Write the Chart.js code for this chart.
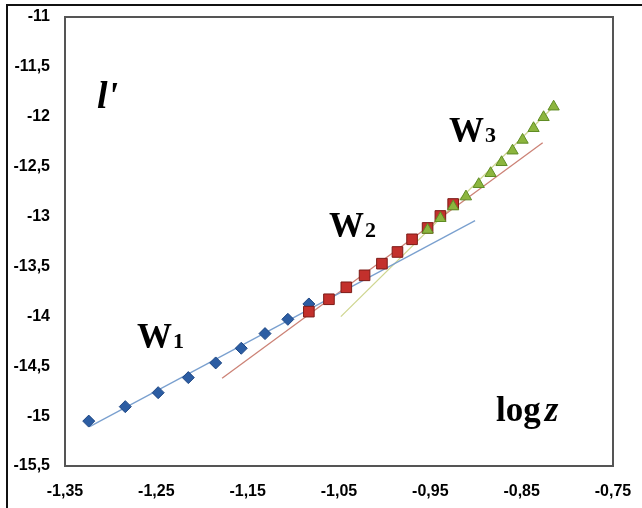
<!DOCTYPE html>
<html>
<head>
  <title>l' vs log z</title>
  <script src="https://cdn.jsdelivr.net/npm/chart.js@4/dist/chart.umd.min.js"></script>
  <style>
    body { margin: 0; background: #fff; }
    #wrap { width: 642px; height: 508px; }
  </style>
</head>
<body>
  <div id="wrap"><canvas id="chart" width="642" height="508"></canvas></div>
  <script>
    // W1 region (blue diamonds)
    const w1X = [-1.324, -1.284, -1.248, -1.215, -1.185, -1.157, -1.131, -1.106, -1.083];
    const w1Y = [-15.05, -14.905, -14.765, -14.614, -14.467, -14.32, -14.173, -14.03, -13.876];
    // W2 region (red squares)
    const w2X = [-1.083, -1.061, -1.042, -1.022, -1.003, -0.986, -0.970, -0.953, -0.939, -0.925];
    const w2Y = [-13.953, -13.829, -13.709, -13.589, -13.472, -13.355, -13.228, -13.114, -12.994, -12.874];
    // W3 region (green triangles)
    const w3X = [-0.953, -0.939, -0.925, -0.911, -0.897, -0.884, -0.872, -0.860, -0.849, -0.837, -0.826, -0.815];
    const w3Y = [-13.134, -13.017, -12.90, -12.80, -12.676, -12.566, -12.456, -12.34, -12.232, -12.115, -12.005, -11.899];
    // fitted straight lines
    const fit1X = [-1.323, -0.901];
    const fit1Y = [-15.105, -13.041];
    const fit2X = [-1.178, -0.827];
    const fit2Y = [-14.62, -12.26];
    const fit3X = [-1.048, -0.813];
    const fit3Y = [-14.003, -11.88];

    const toPts = (xs, ys) => xs.map((x, i) => ({ x: x, y: ys[i] }));

    // frame around the plot and the outer top/left lines
    const framePlugin = {
      id: 'frame',
      beforeDraw(chart) {
        const c = chart.ctx;
        c.save();
        c.strokeStyle = '#111';
        c.lineWidth = 2;
        c.beginPath();
        c.moveTo(7, 508);
        c.lineTo(7, 5);
        c.lineTo(642, 5);
        c.stroke();
        c.restore();
      },
      afterDatasetsDraw(chart) {
        const a = chart.chartArea;
        const c = chart.ctx;
        c.save();
        c.strokeStyle = '#555';
        c.lineWidth = 2;
        c.strokeRect(a.left, a.top, a.right - a.left, a.bottom - a.top);

        c.fillStyle = '#000';
        c.textBaseline = 'alphabetic';
        // l'
        c.font = 'bold italic 38px "Liberation Serif"';
        c.fillText("l'", 97, 108);
        // W labels
        const w = (txt, sub, x, y) => {
          c.font = 'bold 35px "Liberation Serif"';
          c.fillText(txt, x, y);
          const tw = c.measureText(txt).width;
          c.font = 'bold 22px "Liberation Serif"';
          c.fillText(sub, x + tw + 1, y);
        };
        w('W', '1', 137, 348);
        w('W', '2', 329, 237);
        w('W', '3', 449, 142);
        // log z
        c.font = 'bold 35px "Liberation Serif"';
        c.fillText('log', 496, 421);
        const lw = c.measureText('log').width;
        c.font = 'bold italic 35px "Liberation Serif"';
        c.fillText('z', 496 + lw + 4, 421);
        c.restore();
      }
    };

    const ctx = document.getElementById('chart').getContext('2d');
    const chart = new Chart(ctx, {
      type: 'scatter',
      data: {
        datasets: [
          {
            label: 'W3',
            data: toPts(w3X, w3Y),
            pointStyle: 'triangle',
            pointRadius: 6.5,
            backgroundColor: '#8cb53e',
            borderColor: '#5f8c24',
            borderWidth: 1,
            order: 0,
          },
          {
            label: 'W2',
            data: toPts(w2X, w2Y),
            pointStyle: 'rect',
            pointRadius: 7.5,
            backgroundColor: '#c3302c',
            borderColor: '#7c1b17',
            borderWidth: 1,
            order: 1,
          },
          {
            label: 'W1',
            data: toPts(w1X, w1Y),
            pointStyle: 'rectRot',
            pointRadius: 6,
            backgroundColor: '#2c5da3',
            borderColor: '#1d4683',
            borderWidth: 1,
            order: 2,
          },
          {
            label: 'fit1',
            data: toPts(fit1X, fit1Y),
            showLine: true,
            pointRadius: 0,
            borderColor: '#7aa0cf',
            borderWidth: 1.3,
            order: 3,
          },
          {
            label: 'fit2',
            data: toPts(fit2X, fit2Y),
            showLine: true,
            pointRadius: 0,
            borderColor: '#cc8276',
            borderWidth: 1.3,
            order: 4,
          },
          {
            label: 'fit3',
            data: toPts(fit3X, fit3Y),
            showLine: true,
            pointRadius: 0,
            borderColor: '#cfd690',
            borderWidth: 1.3,
            order: 5,
          },
        ],
      },
      options: {
        responsive: false,
        animation: false,
        layout: { padding: { top: 17, right: 29, left: 0, bottom: 0 } },
        plugins: {
          legend: { display: false },
          tooltip: { enabled: false },
        },
        scales: {
          x: {
            type: 'linear',
            min: -1.35,
            max: -0.75,
            grid: { display: false, drawTicks: false },
            border: { display: false },
            ticks: {
              stepSize: 0.1,
              padding: 16,
              color: '#000',
              font: { family: '"Liberation Sans"', size: 16, weight: 'bold' },
              callback: (v) => v.toFixed(2).replace('.', ','),
            },
            afterFit: (s) => {
              s.height = 42;
              s.paddingLeft = 0;
              s.paddingRight = 0;
            },
          },
          y: {
            min: -15.5,
            max: -11,
            grid: { display: false, drawTicks: false },
            border: { display: false },
            ticks: {
              stepSize: 0.5,
              padding: 15,
              color: '#000',
              font: { family: '"Liberation Sans"', size: 16, weight: 'bold' },
              callback: (v) => String(Math.round(v * 10) / 10).replace('.', ','),
            },
            afterFit: (s) => {
              s.width = 65;
              s.paddingTop = 0;
              s.paddingBottom = 0;
            },
          },
        },
      },
      plugins: [framePlugin],
    });
  </script>
</body>
</html>
